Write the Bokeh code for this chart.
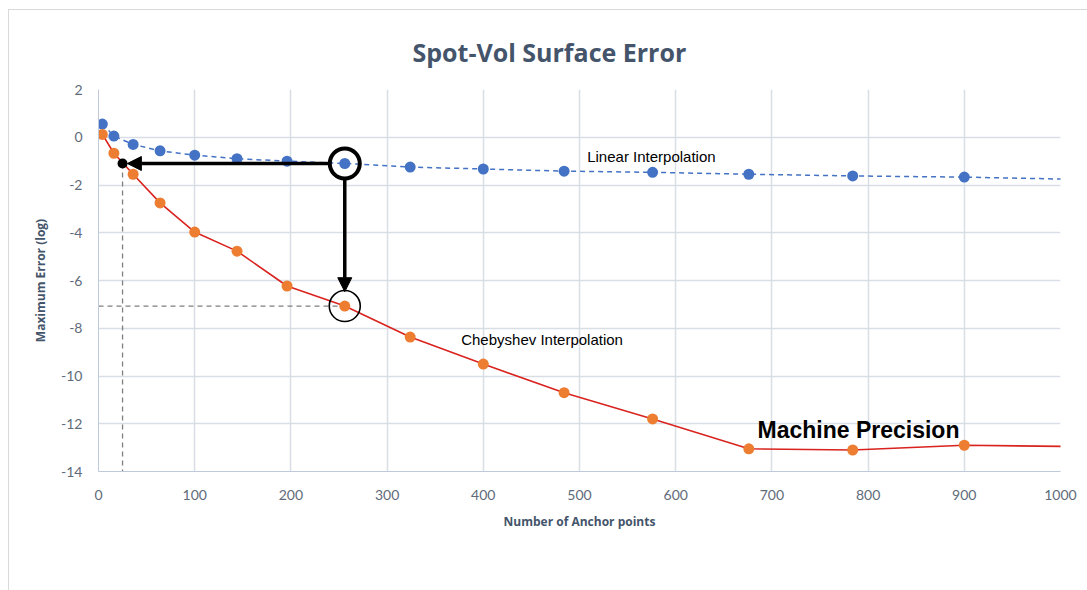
from bokeh.plotting import figure
from bokeh.models import Arrow, NormalHead, Label, Range1d, FixedTicker, PrintfTickFormatter
from bokeh.embed import file_html
from bokeh.resources import INLINE

# ---- data ----
anchor_points = [4, 16, 36, 64, 100, 144, 196, 256, 324, 400, 484, 576, 676, 784, 900, 1024]
linear_err = [0.55, 0.05, -0.3, -0.57, -0.75, -0.9, -1.0, -1.1, -1.25, -1.33, -1.42, -1.47, -1.55, -1.62, -1.67, -1.77]
cheb_err = [0.12, -0.67, -1.55, -2.75, -3.97, -4.77, -6.23, -7.07, -8.37, -9.5, -10.7, -11.8, -13.05, -13.1, -12.9, -12.96]
n_markers = 15  # last point only extends the line beyond the axis

x_ticks = [0, 100, 200, 300, 400, 500, 600, 700, 800, 900, 1000]
y_ticks = [-14, -12, -10, -8, -6, -4, -2, 0, 2]

highlight_x = 256
highlight_lin = -1.1
highlight_cheb = -7.07
equiv_x = 25
equiv_y = -1.1

GRID = "#D9DEE6"

p = figure(width=1079, height=581, output_backend="svg", toolbar_location=None,
           x_range=Range1d(0, 1000), y_range=Range1d(-14, 2),
           min_border_left=89, min_border_right=28, min_border_top=79, min_border_bottom=120)
p.styles = {"margin-left": "8px", "margin-top": "9px",
            "border-left": "1px solid #D9D9D9", "border-top": "1px solid #D9D9D9"}
p.outline_line_color = None
p.background_fill_color = "white"

p.title.text = "Spot-Vol Surface Error"
p.title.align = "left"
p.title.offset = 314
p.title.text_font = "Open Sans"
p.title.text_font_size = "25px"
p.title.text_font_style = "bold"
p.title.text_color = "#44546A"
p.title.standoff = 42

for ax in (p.xaxis, p.yaxis):
    ax.major_tick_line_color = None
    ax.minor_tick_line_color = None
    ax.axis_line_color = "#BFC9D9"
    ax.major_label_text_font = "Lato"
    ax.major_label_text_font_size = "14px"
    ax.major_label_text_color = "#5F6B7A"
    ax.axis_label_text_font = "Open Sans"
    ax.axis_label_text_font_size = "12px"
    ax.axis_label_text_font_style = "bold"
    ax.axis_label_text_color = "#44546A"
    ax.formatter = PrintfTickFormatter(format="%d")

p.xaxis.ticker = FixedTicker(ticks=x_ticks)
p.yaxis.ticker = FixedTicker(ticks=y_ticks)
p.xaxis.axis_label = "Number of Anchor points"
p.yaxis.axis_label = "Maximum Error (log)"
p.xaxis.major_label_standoff = 12
p.yaxis.major_label_standoff = 10
p.xaxis.axis_label_standoff = 10
p.yaxis.axis_label_standoff = 9

p.xgrid.grid_line_color = GRID
p.ygrid.grid_line_color = GRID
p.xgrid.ticker = FixedTicker(ticks=x_ticks)
p.ygrid.ticker = FixedTicker(ticks=y_ticks)
p.xgrid.grid_line_width = 1.5
p.ygrid.grid_line_width = 1.5

# series
p.line(anchor_points, linear_err, line_color="#4472C4", line_width=1.5, line_dash="5 4")
p.line(anchor_points, cheb_err, line_color="#D9231E", line_width=1.6)

# dashed guide lines
p.segment(x0=[0, equiv_x], y0=[highlight_cheb, equiv_y], x1=[highlight_x, equiv_x], y1=[highlight_cheb, -14],
          line_color="#7F7F7F", line_width=1.3, line_dash="5 4")

p.scatter(anchor_points[:n_markers], linear_err[:n_markers], size=11, fill_color="#4472C4", line_color=None)
p.scatter(anchor_points[:n_markers], cheb_err[:n_markers], size=11, fill_color="#ED7D31", line_color=None)

# circles around highlighted points
p.scatter([highlight_x], [highlight_lin], size=30, fill_color=None, line_color="black", line_width=4)
p.scatter([highlight_x], [highlight_cheb], size=31, fill_color=None, line_color="black", line_width=1.6)

# arrows
p.add_layout(Arrow(end=NormalHead(size=14, fill_color="black", line_color="black"),
                   x_start=highlight_x - 14, y_start=highlight_lin, x_end=equiv_x + 5, y_end=equiv_y,
                   line_width=3.5, line_color="black"))
p.add_layout(Arrow(end=NormalHead(size=14, fill_color="black", line_color="black"),
                   x_start=highlight_x, y_start=highlight_lin - 0.6, x_end=highlight_x, y_end=highlight_cheb + 0.6,
                   line_width=3.5, line_color="black"))
p.scatter([equiv_x], [equiv_y], size=10, fill_color="black", line_color=None)

# text labels
p.add_layout(Label(x=508, y=-0.45, text="Linear Interpolation", text_font="Liberation Sans",
                   text_font_size="15px", text_color="black", text_baseline="top"))
p.add_layout(Label(x=377, y=-8.1, text="Chebyshev Interpolation", text_font="Liberation Sans",
                   text_font_size="15px", text_color="black", text_baseline="top"))
p.add_layout(Label(x=685, y=-11.7, text="Machine Precision", text_font="Liberation Sans",
                   text_font_size="23px", text_font_style="bold", text_color="black", text_baseline="top"))

open("out.html", "w").write(file_html(p, INLINE))
